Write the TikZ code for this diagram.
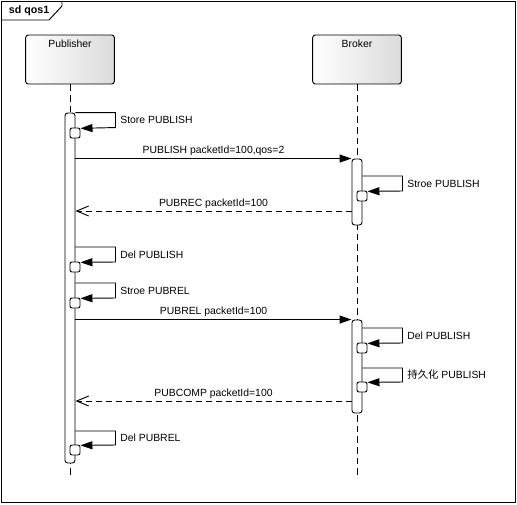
\documentclass[tikz,border=0pt]{standalone}
\usepackage{fontspec}
\setmainfont{Liberation Sans}
\newfontfamily\cjk{Noto Sans CJK SC}
\usetikzlibrary{arrows.meta,positioning}

\begin{document}
\begin{tikzpicture}[x=0.75pt,y=-0.75pt,line width=0.7pt,font=\fontsize{7.8}{9}\selectfont,
    actor/.style={draw,rounded corners=2pt,left color=white,right color=black!14,minimum width=66.5pt,minimum height=36.75pt},
    lifeline/.style={dash pattern=on 5pt off 3pt},
    bar/.style={draw,fill=white,rounded corners=2pt,minimum width=7.5pt,inner sep=0pt},
    exec/.style={draw,fill=white,rounded corners=1.5pt,minimum width=7.5pt,minimum height=7.5pt,inner sep=0pt},
    msg/.style={-{Triangle[length=9pt,width=6pt]}},
    reply/.style={dash pattern=on 4.5pt off 3pt,-{Straight Barb[length=9pt,width=7.5pt,line width=0.7pt]}},
    lbl/.style={above,inner sep=1.5pt}]
    \useasboundingbox (0,0) rectangle (517,504);

    % frame
    \draw (1,1) rectangle (515,502);
    \draw (1,20) -- (49,20) -- (62,6) -- (62,1);
    \node[anchor=west,font=\fontsize{8}{9}\selectfont\bfseries] (title) at (4,11) {sd qos1};

    % lifelines
    \node[actor,label={[anchor=north,inner sep=4pt]north:Publisher}] (P) at (70,59.5) {};
    \node[actor,label={[anchor=north,inner sep=4pt]north:Broker}] (B) at (357,59.5) {};
    \coordinate (Pend) at (70,478);
    \coordinate (Bend) at (357,478);
    \draw[lifeline] (P.south) -- (Pend);
    \draw[lifeline] (B.south) -- (Bend);

    % activations
    \node[bar,minimum height=262.5pt] (Pbar) at (70,288) {};
    \node[bar,minimum height=49.5pt] (Bbar1) at (357,192) {};
    \node[bar,minimum height=69.75pt] (Bbar2) at (357,366.5) {};

    \node[exec] (p1) at (75,133) {};
    \node[exec] (p2) at (75,267) {};
    \node[exec] (p3) at (75,303) {};
    \node[exec] (p4) at (75,450) {};
    \node[exec] (b1) at (362,196) {};
    \node[exec] (b2) at (362,348) {};
    \node[exec] (b3) at (362,387) {};

    % publisher self messages
    \draw[msg] (Pbar.north east) -- ++(40,0) -- node[right]{Store PUBLISH} ++(0,15) -- ([yshift=3.5pt]p1.east);
    \draw[msg] (Pbar.east |- 0,247) -- ++(40,0) -- node[right]{Del PUBLISH} ++(0,15) -- ([yshift=3.5pt]p2.east);
    \draw[msg] (Pbar.east |- 0,283) -- ++(40,0) -- node[right]{Stroe PUBREL} ++(0,15) -- ([yshift=3.5pt]p3.east);
    \draw[msg] (Pbar.east |- 0,431) -- ++(40,0) -- node[right]{Del PUBREL} ++(0,14) -- ([yshift=3.5pt]p4.east);

    % broker self messages
    \draw[msg] (Bbar1.east |- 0,176) -- ++(40,0) -- node[right]{Stroe PUBLISH} ++(0,15) -- ([yshift=3.5pt]b1.east);
    \draw[msg] (Bbar2.east |- 0,328) -- ++(40,0) -- node[right]{Del PUBLISH} ++(0,15) -- ([yshift=3.5pt]b2.east);
    \draw[msg] (Bbar2.east |- 0,368) -- ++(40,0) -- node[right]{{\cjk 持久化} PUBLISH} ++(0,14) -- ([yshift=3.5pt]b3.east);

    % messages
    \draw[msg] (Pbar.east |- Bbar1.north) -- node[lbl]{PUBLISH packetId=100,qos=2} (Bbar1.north west);
    \draw[reply] (Bbar1.west |- 0,211) -- node[lbl]{PUBREC packetId=100} (Pbar.east |- 0,211);
    \draw[msg] (Pbar.east |- Bbar2.north) -- node[lbl]{PUBREL packetId=100} (Bbar2.north west);
    \draw[reply] (Bbar2.west |- 0,401) -- node[lbl]{PUBCOMP packetId=100} (Pbar.east |- 0,401);
\end{tikzpicture}
\end{document}
